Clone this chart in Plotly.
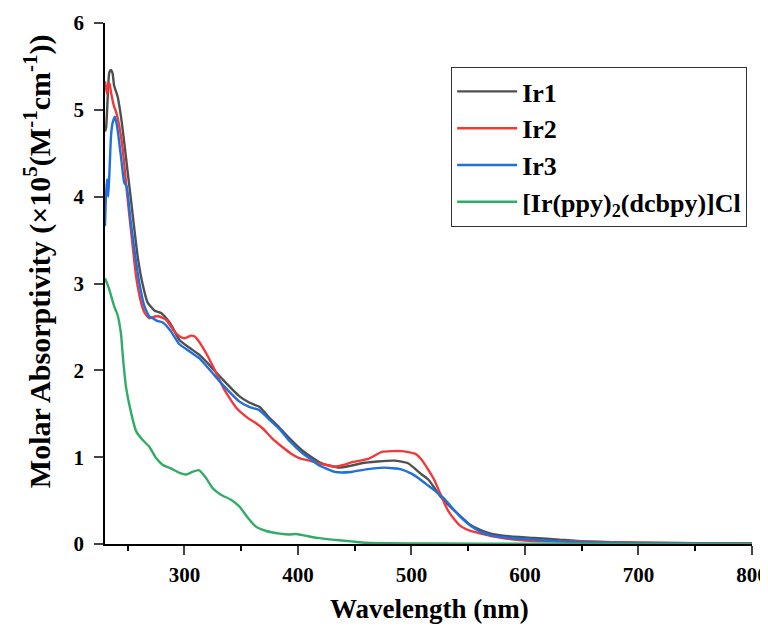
import plotly.graph_objects as go

# ---- data ----
ir1_x = [230, 231, 232.3, 233.8, 235.3, 236.7, 238, 241, 244, 247, 250, 253, 255.9, 258.8, 263, 267.6,
         273.5, 279.4, 284, 288, 295.6, 304.4, 313, 322, 334, 348.5, 357, 366, 375, 383, 393, 403.5,
         412, 421, 436, 446, 456, 470, 485, 497, 509, 515, 526, 535, 544, 552, 561, 570, 579, 595,
         608, 630, 652, 700, 750, 800]
ir1_y = [4.75, 4.8, 5.12, 5.43, 5.46, 5.42, 5.28, 5.16, 4.93, 4.62, 4.28, 3.95, 3.62, 3.31, 3.0, 2.78,
         2.69, 2.66, 2.6, 2.53, 2.35, 2.26, 2.18, 2.06, 1.89, 1.70, 1.63, 1.58, 1.45, 1.35, 1.21, 1.08,
         1.0, 0.93, 0.88, 0.9, 0.93, 0.95, 0.96, 0.93, 0.8, 0.74, 0.54, 0.42, 0.31, 0.22, 0.16, 0.12, 0.10, 0.08,
         0.07, 0.05, 0.03, 0.015, 0.008, 0.005]

ir2_x = [230, 231.8, 233, 234, 235.3, 238, 239.7, 242.6, 245.6, 248.5, 251.5, 254.4, 257.4, 261.8, 265,
         269, 274, 278, 284, 291, 296, 300, 306, 309, 311.8, 319, 326.5, 335, 345.6, 356, 363, 369, 377,
         386, 394, 401, 410, 418, 432.5, 440, 447, 462, 474, 491, 503, 509, 515, 520, 524, 532, 538, 544,
         552, 561, 570, 579, 595, 608, 630, 650, 700, 750, 800]
ir2_y = [5.33, 5.18, 5.31, 5.3, 5.2, 5.04, 4.98, 4.81, 4.55, 4.16, 3.78, 3.43, 3.08, 2.78, 2.66,
         2.6, 2.62, 2.62, 2.58, 2.45, 2.39, 2.37, 2.40, 2.39, 2.35, 2.20, 2.01, 1.78, 1.57, 1.45, 1.39, 1.33, 1.22,
         1.12, 1.04, 0.99, 0.96, 0.93, 0.89, 0.91, 0.94, 0.98, 1.06, 1.07, 1.04, 0.97, 0.85, 0.74, 0.62, 0.39, 0.28, 0.20,
         0.15, 0.12, 0.09, 0.07, 0.045, 0.035, 0.03, 0.028, 0.015, 0.01, 0.008]

ir3_x = [230, 230.8, 231.8, 232.8, 233.8, 235.3, 236.7, 238.8, 241, 244, 247, 249, 250.5, 252.4, 255.9,
         260.3, 264.7, 269, 272, 276, 281, 288, 295.6, 304.4, 313, 322, 334, 348.5, 357, 366, 375, 384,
         393, 403.5, 412, 418, 432.5, 447, 460, 476, 491, 500, 506, 513, 520, 529, 537, 544, 552, 561,
         570, 579, 595, 608, 630, 650, 700, 800]
ir3_y = [3.66, 4.0, 4.2, 4.0, 4.24, 4.7, 4.85, 4.92, 4.78, 4.47, 4.16, 4.12, 3.98, 3.74, 3.39,
         3.0, 2.74, 2.62, 2.6, 2.57, 2.55, 2.45, 2.30, 2.22, 2.14, 2.01, 1.83, 1.64, 1.58, 1.54, 1.43, 1.32,
         1.18, 1.05, 0.97, 0.91, 0.83, 0.83, 0.86, 0.88, 0.86, 0.81, 0.76, 0.69, 0.62, 0.52, 0.40, 0.30, 0.21, 0.14,
         0.10, 0.08, 0.06, 0.05, 0.03, 0.02, 0.01, 0.003]

cl_x = [230, 233.8, 238, 241, 244, 246, 248.5, 253, 257.4, 263, 269, 275, 281, 288, 295.6, 301.5, 307,
        312.6, 319, 325, 332.4, 341, 348.5, 356, 363, 372, 384, 392, 398, 405, 417, 430, 447, 460, 480,
        520, 600, 700, 800]
cl_y = [3.06, 2.93, 2.74, 2.64, 2.43, 2.12, 1.81, 1.51, 1.30, 1.20, 1.12, 0.99, 0.91, 0.87, 0.82, 0.80, 0.83,
        0.85, 0.76, 0.64, 0.565, 0.51, 0.43, 0.30, 0.20, 0.15, 0.12, 0.11, 0.115, 0.10, 0.07, 0.05, 0.03, 0.015, 0.008,
        0.005, 0.003, 0.002, 0.002]

names = ["Ir1", "Ir2", "Ir3", "[Ir(ppy)<sub>2</sub>(dcbpy)]Cl"]
colors = ["#505050", "#ee3a3a", "#1f6fdc", "#2fad66"]
xs = [ir1_x, ir2_x, ir3_x, cl_x]
ys = [ir1_y, ir2_y, ir3_y, cl_y]

x_ticks = [300, 400, 500, 600, 700, 800]
y_ticks = [0, 1, 2, 3, 4, 5, 6]

FONT = "Liberation Serif"

fig = go.Figure()
for x, y, n, c in zip(xs, ys, names, colors):
    fig.add_trace(go.Scatter(x=x, y=y, name="<b>" + n + "</b>", mode="lines",
                             line=dict(color=c, width=2.4, shape="spline", smoothing=0.5)))

fig.update_layout(
    width=760, height=618,
    margin=dict(l=97, r=16, t=15, b=82),
    paper_bgcolor="white", plot_bgcolor="white",
    font=dict(family=FONT, color="black"),
    legend=dict(x=0.535, y=0.9155, xanchor="left", yanchor="top",
                bordercolor="#333333", borderwidth=1, bgcolor="white",
                font=dict(family=FONT, size=26, color="black"),
                tracegroupgap=0, itemwidth=60),
    xaxis=dict(range=[230, 800], tickvals=x_ticks, ticktext=[f"<b>{v}</b>" for v in x_ticks],
               ticks="outside", ticklen=9, tickwidth=1.5, automargin=False,
               showline=True, linecolor="black", linewidth=1.5, showgrid=False, zeroline=False,
               tickfont=dict(family=FONT, size=21, color="black"), ticklabelstandoff=2,
               minor=dict(dtick=50, tick0=0, ticks="outside", ticklen=5, tickwidth=1.5, tickcolor="black")),
    yaxis=dict(range=[0, 6], tickvals=y_ticks, ticktext=[f"<b>{v}</b>" for v in y_ticks],
               ticks="outside", ticklen=9, tickwidth=1.5, automargin=False,
               showline=True, linecolor="black", linewidth=1.5, showgrid=False, zeroline=False,
               tickfont=dict(family=FONT, size=21, color="black"), ticklabelstandoff=6),
    annotations=[
        dict(text="<b>Molar Absorptivity (×10<sup>5</sup>(M<sup>-1</sup>cm<sup>-1</sup>))</b>",
             xref="paper", yref="paper", x=-0.105, y=0.543, xanchor="center", yanchor="middle",
             textangle=-90, showarrow=False, font=dict(family=FONT, size=30, color="black")),
        dict(text="<b>Wavelength (nm)</b>",
             xref="paper", yref="paper", x=0.502, y=-0.125, xanchor="center", yanchor="middle",
             showarrow=False, font=dict(family=FONT, size=27, color="black")),
    ],
)

fig.write_html("out.html")
